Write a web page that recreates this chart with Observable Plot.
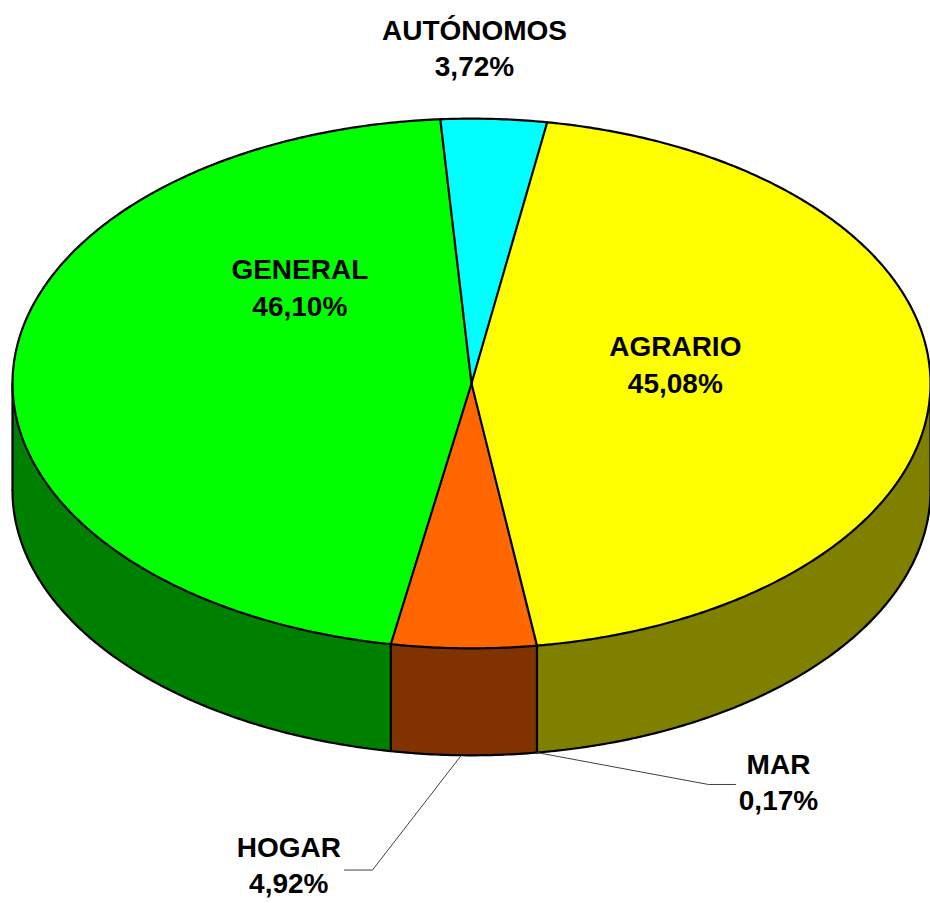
<!DOCTYPE html>
<html><head><meta charset="utf-8">
<script src="https://cdn.jsdelivr.net/npm/d3@7"></script>
<script src="https://cdn.jsdelivr.net/npm/@observablehq/plot@0.6"></script>
<style>body{margin:0;background:#fff}</style>
</head><body><div id="chart"></div>
<script>
// ---- data ----
const categories = ["AUTÓNOMOS", "AGRARIO", "MAR", "HOGAR", "GENERAL"];
const shares = [3.72, 45.08, 0.17, 4.92, 46.10];
const valueLabels = ["3,72%", "45,08%", "0,17%", "4,92%", "46,10%"];
const topColors = ["#00FFFF", "#FFFF00", "#FF6600", "#FF6600", "#00FF00"];
const sideColors = ["#008080", "#808000", "#803300", "#803300", "#008000"];
// label anchors (in pie-radius units)
const labelX = [0.0065, 0.444, 0.6688, -0.398, -0.374];
const labelY = [0.7344, 0.0451, -0.8645, -1.046, 0.2131];
// leader line elbow / end (null = no leader)
const leaderElbowX = [null, null, 0.5163, -0.2157, null];
const leaderElbowY = [null, null, -0.8736, -1.0600, null];
const leaderEndX = [null, null, 0.5752, -0.2767, null];

// ---- geometry of the tilted pie ----
const tilt = 0.577, depth = 0.233, startAngle = -3.9;
const rad = d => d * Math.PI / 180;
const P = (a, dy = 0) => ({x: Math.sin(rad(a)), y: tilt * Math.cos(rad(a)) - dy});
function arc(a0, a1, dy = 0) {
  const n = Math.max(2, Math.ceil(Math.abs(a1 - a0) / 0.5));
  return d3.range(n + 1).map(i => P(a0 + (a1 - a0) * i / n, dy));
}
const total = d3.sum(shares);
let acc = startAngle;
const slices = categories.map((c, i) => {
  const a0 = acc, a1 = acc + shares[i] / total * 360;
  acc = a1;
  return {c, i, a0, a1};
});

const marks = [];
const ink = {stroke: "#000", strokeWidth: 2.2, strokeLinejoin: "round", strokeLinecap: "round"};
// side fills (front half only)
slices.forEach(s => {
  const lo = Math.max(s.a0, 90), hi = Math.min(s.a1, 270);
  if (lo < hi) {
    const pts = [...arc(lo, hi), ...arc(hi, lo, depth)];
    marks.push(Plot.line(pts, {x: "x", y: "y", curve: "linear-closed", fill: sideColors[s.i],
      stroke: sideColors[s.i], strokeWidth: 0.5}));
  }
});
// side outlines: bottom rim, outer vertical edges, and boundaries between differently coloured slices
marks.push(Plot.line(arc(90, 270, depth), {x: "x", y: "y", ...ink}));
const boundaries = slices.filter(s => topColors[s.i] !== topColors[(s.i + slices.length - 1) % slices.length]).map(s => s.a0);
const verticals = [90, 270, ...boundaries.map(a => ((a % 360) + 360) % 360).filter(a => a > 90 && a < 270)]
  .map(a => ({p: P(a), q: P(a, depth)}));
marks.push(Plot.link(verticals, {x1: d => d.p.x, y1: d => d.p.y, x2: d => d.q.x, y2: d => d.q.y, ...ink}));
// top fills
slices.forEach(s => {
  const pts = [{x: 0, y: 0}, ...arc(s.a0, s.a1)];
  marks.push(Plot.line(pts, {x: "x", y: "y", curve: "linear-closed", fill: topColors[s.i],
    stroke: topColors[s.i], strokeWidth: 0.5}));
});
// top outline and radial boundaries
marks.push(Plot.line(arc(0, 360), {x: "x", y: "y", curve: "linear-closed", ...ink}));
marks.push(Plot.link(boundaries.map(a => P(a)), {x1: () => 0, y1: () => 0, x2: "x", y2: "y", ...ink}));
// leader lines
slices.forEach(s => {
  if (leaderElbowX[s.i] == null) return;
  const a = s.c === "MAR" ? s.a0 : (s.a0 + s.a1) / 2;
  const start = P(a, depth);
  const pts = [start, {x: leaderElbowX[s.i], y: leaderElbowY[s.i]}, {x: leaderEndX[s.i], y: leaderElbowY[s.i]}];
  marks.push(Plot.line(pts, {x: "x", y: "y", stroke: "#404040", strokeWidth: 1}));
});
// labels
const labels = categories.map((c, i) => ({x: labelX[i], y: labelY[i], t: c + "\n" + valueLabels[i]}));
marks.push(Plot.text(labels, {x: "x", y: "y", text: "t", fontSize: 28, fontWeight: "bold",
  fontFamily: "'Liberation Sans', Arial, sans-serif", lineHeight: 1.3, fill: "#000"}));

const chart = Plot.plot({
  width: 930, height: 903, margin: 0,
  x: {domain: [-471 / 459, 459 / 459], axis: null},
  y: {domain: [(383 - 903) / 459, 383 / 459], axis: null},
  style: {background: "#fff", overflow: "visible"},
  marks
});
document.getElementById("chart").appendChild(chart);
</script>
</body></html>
